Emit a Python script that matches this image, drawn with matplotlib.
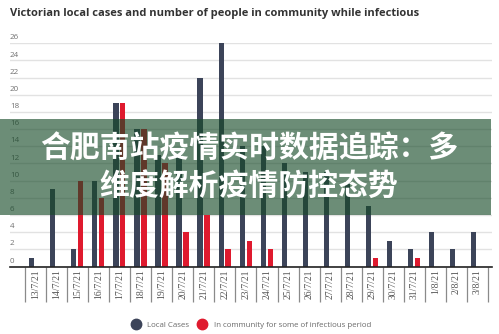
import numpy as np
import matplotlib
matplotlib.use("Agg")
import matplotlib.pyplot as plt
from matplotlib.lines import Line2D
from matplotlib.patches import Rectangle
from matplotlib.transforms import blended_transform_factory

dates = ['13/7/21', '14/7/21', '15/7/21', '16/7/21', '17/7/21', '18/7/21',
         '19/7/21', '20/7/21', '21/7/21', '22/7/21', '23/7/21', '24/7/21',
         '25/7/21', '26/7/21', '27/7/21', '28/7/21', '29/7/21', '30/7/21',
         '31/7/21', '1/8/21', '2/8/21', '3/8/21']
local_cases = [1, 9, 2, 10, 19, 16, 13, 13, 22, 26, 14, 14, 12, 11, 11, 10,
               7, 3, 2, 4, 2, 4]
in_community = [0, 0, 10, 8, 19, 16, 12, 4, 6, 2, 3, 2, 0, 0, 0, 0,
                1, 0, 1, 0, 0, 0]
y_ticks = list(range(0, 27, 2))

title = "Victorian local cases and number of people in community while infectious"
banner_lines = ["合肥南站疫情实时数据追踪：多", "维度解析疫情防控态势"]

NAVY = '#3c4459'
RED = '#df1a2e'
W, H = 499, 334

fig = plt.figure(figsize=(W / 100, H / 100), dpi=100)
fig.patch.set_facecolor('white')

# axes box in pixel terms: x 10..492, y baseline 266.5, top gridline 43.3
ax = fig.add_axes([10 / W, 1 - 266.5 / H, 482 / W, 223.2 / H])
x = np.arange(len(dates))
ax.bar(x - 0.18, local_cases, width=0.25, color=NAVY, zorder=3)
ax.bar(x + 0.15, in_community, width=0.25, color=RED, zorder=3)

ax.set_xlim(-0.5 - 15 / 21.05, len(dates) - 0.5 + 4 / 21.05)
ax.set_ylim(0, 26)
for s in ['top', 'right', 'left']:
    ax.spines[s].set_visible(False)
ax.spines['bottom'].set_color('#222222')
ax.spines['bottom'].set_linewidth(1.2)
ax.spines['bottom'].set_zorder(4)

ax.set_yticks(y_ticks)
ax.yaxis.grid(True, color='#e2e2e2', linewidth=1.0, zorder=0)
ax.tick_params(axis='y', length=0, labelleft=False)

# value labels sit just above their gridline at the left edge
tr = blended_transform_factory(fig.transFigure, ax.transData)
for v in y_ticks:
    ax.text(10 / W, v + 0.45, str(v), transform=tr, ha='left', va='baseline',
            fontsize=5.8, color='#707070', family='Open Sans')

ax.set_xticks(x)
ax.set_xticklabels(dates, rotation=90, fontsize=7, color='#555555',
                   family='Liberation Serif')
ax.tick_params(axis='x', length=0, pad=2)

# category separators below the baseline
bounds = np.arange(len(dates) + 1) - 0.5
ax.vlines(bounds, -4.1, 0, colors='#8a8a8a', linewidth=0.9, clip_on=False)

fig.text(10 / W, 1 - 13.5 / H, title, ha='left', va='center', fontsize=8.0,
         fontweight='bold', color='#333333', family='Open Sans')

handles = [Line2D([], [], marker='o', linestyle='', markersize=7.5, color=NAVY),
           Line2D([], [], marker='o', linestyle='', markersize=7.5, color=RED)]
fig.legend(handles, ['Local Cases', 'In community for some of infectious period'],
           loc='center', bbox_to_anchor=(0.5, 1 - 325 / H), ncol=2, frameon=False,
           labelcolor='#6a6a6a', handletextpad=0.5, columnspacing=0.6,
           prop={'family': 'Open Sans', 'size': 5.7})

# translucent green banner with headline
fig.add_artist(Rectangle((0, 1 - 215 / H), 491 / W, 95.7 / H,
                         transform=fig.transFigure, facecolor='#164a28',
                         alpha=0.63, edgecolor='none', zorder=5))
for line, yc in zip(banner_lines, [148.5, 186.5]):
    fig.text(249 / W, 1 - yc / H, line, ha='center', va='center',
             fontsize=21.5, fontweight='bold', color='white',
             family=['Noto Sans CJK SC', 'DejaVu Sans'], zorder=6)

fig.savefig('out.png', dpi=100)
